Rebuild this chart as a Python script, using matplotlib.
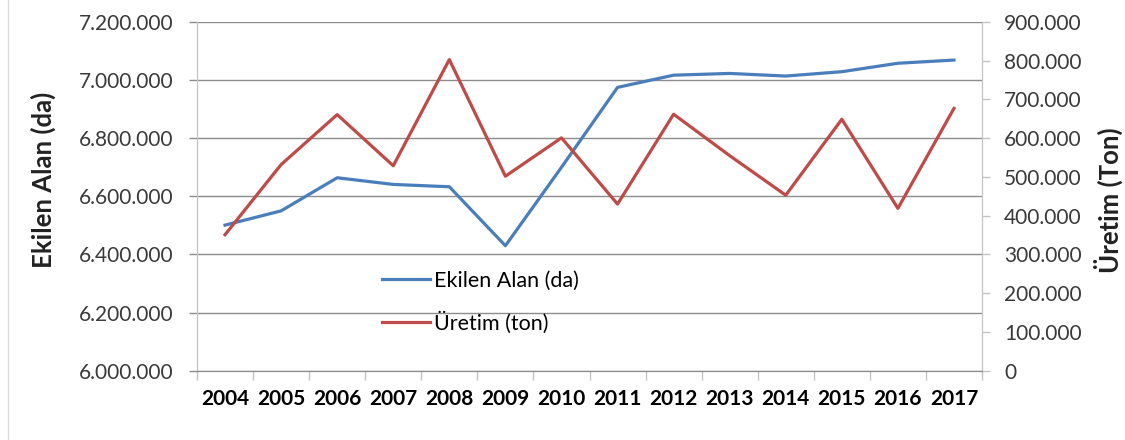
import matplotlib
matplotlib.use("Agg")
import matplotlib.pyplot as plt
from matplotlib.ticker import FuncFormatter, FixedLocator, MultipleLocator
from matplotlib.lines import Line2D
import numpy as np

plt.rcParams['font.family'] = ['Lato', 'DejaVu Sans']

years = ['2004', '2005', '2006', '2007', '2008', '2009', '2010',
         '2011', '2012', '2013', '2014', '2015', '2016', '2017']
ekilen_alan = [6501000, 6550000, 6664000, 6641000, 6633000, 6430000, 6700000,
               6975000, 7017000, 7023000, 7014000, 7029000, 7058000, 7069000]
uretim = [351000, 532000, 661000, 529000, 803000, 502000, 601000,
          430000, 662000, 555000, 453000, 649000, 419000, 677000]

blue = '#4A7EBB'
red = '#BE4B48'
grid_c = '#8c8c8c'
axis_c = '#c4c4c4'


def dot_fmt(v, pos):
    return '{:,.0f}'.format(v).replace(',', '.')


W, H = 1125, 440
fig = plt.figure(figsize=(W / 100, H / 100), dpi=100)
ax = fig.add_axes([197 / W, 1 - 370.7 / H, (982 - 197) / W, (370.7 - 22) / H])
ax2 = ax.twinx()

l1, = ax.plot(years, ekilen_alan, color=blue, lw=2.3, label='Ekilen Alan (da)',
              solid_joinstyle='round')
l2, = ax2.plot(years, uretim, color=red, lw=2.3, label='Üretim (ton)',
               solid_joinstyle='round')

ax.set_xlim(-0.5, len(years) - 0.5)
ax.set_ylim(6000000, 7200000)
ax.yaxis.set_major_locator(MultipleLocator(200000))
ax.yaxis.set_major_formatter(FuncFormatter(dot_fmt))
ax2.set_ylim(0, 900000)
ax2.yaxis.set_major_locator(MultipleLocator(100000))
ax2.yaxis.set_major_formatter(FuncFormatter(dot_fmt))

ax.grid(axis='y', color=grid_c, lw=1)
ax.set_axisbelow(True)

# category boundaries get the tick marks, labels sit in the middle
ax.xaxis.set_minor_locator(FixedLocator(np.arange(-0.5, len(years), 1)))
ax.tick_params(axis='x', which='major', length=0, pad=13, labelsize=15)
ax.tick_params(axis='x', which='minor', length=6.5, color=axis_c, width=1)
for t in ax.get_xticklabels():
    t.set_fontweight('bold')
ax.tick_params(axis='y', length=6, color=grid_c, width=1, pad=11,
               labelsize=15, labelcolor='#3a3a3a')
ax2.tick_params(axis='y', length=6, color=axis_c, width=1, pad=10,
                labelsize=15, labelcolor='#3a3a3a')

for a in (ax, ax2):
    a.spines['top'].set_visible(False)
    a.spines['left'].set_color(axis_c)
    a.spines['right'].set_color(axis_c)
    a.spines['bottom'].set_color(grid_c)

fig.text(43 / W, 1 - 180 / H, 'Ekilen Alan (da)', rotation=90, ha='center',
         va='center', fontsize=18.5, fontweight='bold', color='#222222')
fig.text(1108 / W, 1 - 200 / H, 'Üretim (Ton)', rotation=90, ha='center',
         va='center', fontsize=18.5, fontweight='bold', color='#222222')

ax2.legend(handles=[l1, l2], loc='center left',
           bbox_to_anchor=(382 / W, 1 - 302.3 / H), bbox_transform=fig.transFigure,
           frameon=False, fontsize=15.5, handlelength=2.25, handletextpad=0.15,
           labelspacing=0.95, borderpad=0, borderaxespad=0)

fig.add_artist(Line2D([8 / W, 8 / W], [0, 1], color='#dcdcdc', lw=1))

fig.savefig('out.png', dpi=100, facecolor='white')
